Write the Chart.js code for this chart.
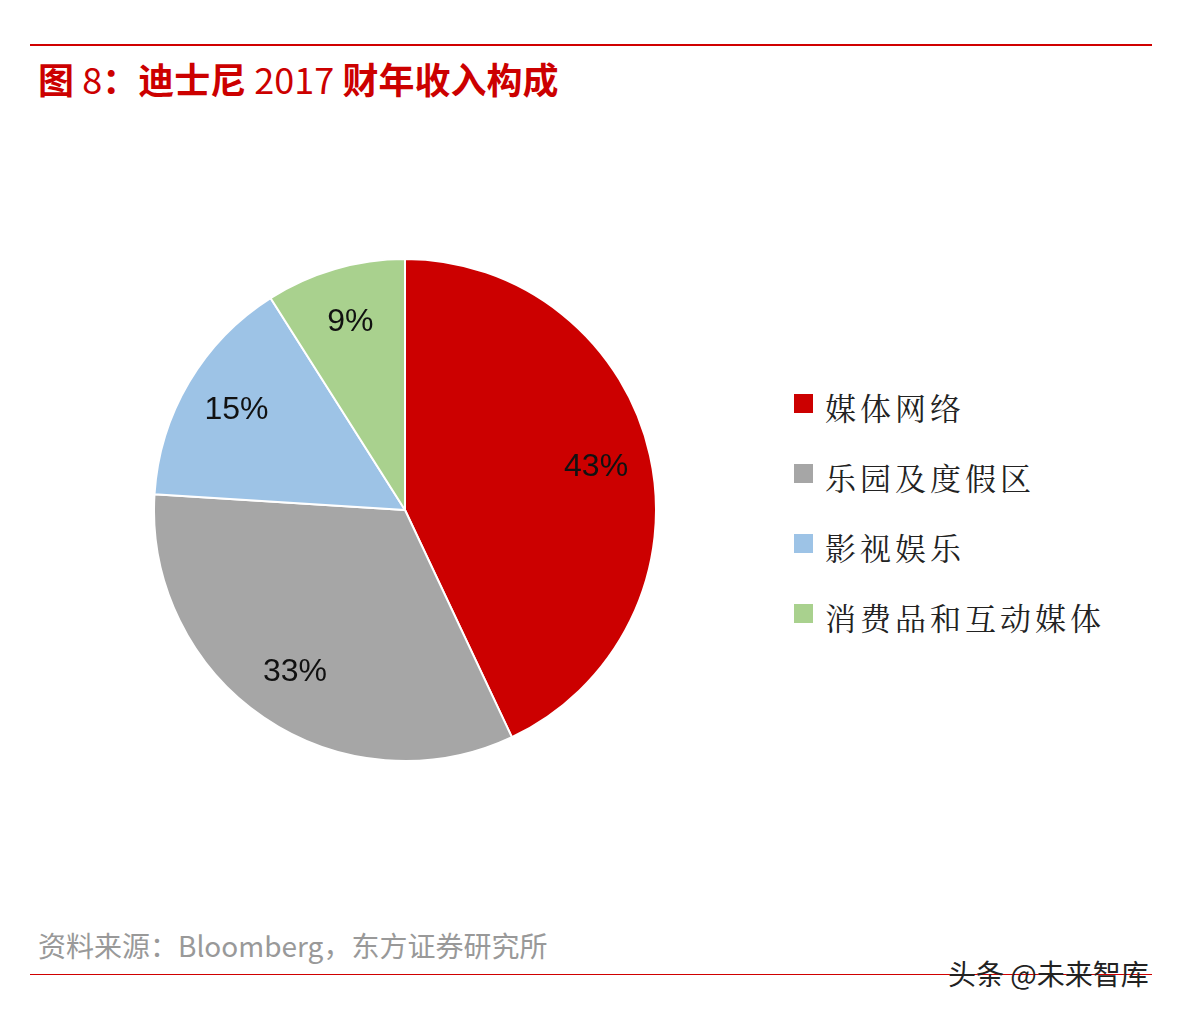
<!DOCTYPE html>
<html><head><meta charset="utf-8">
<script src="https://cdn.jsdelivr.net/npm/chart.js@4"></script>
<style>
body{margin:0;width:1192px;height:1014px;background:#fff;position:relative;font-family:"Noto Sans CJK SC","Noto Sans",sans-serif;overflow:hidden}
.line{position:absolute;left:30px;width:1122px;height:2px;background:#d00000}
#title{position:absolute;left:38px;top:52px;font-size:36px;font-weight:bold;color:#cc0000;white-space:nowrap}
#box{position:absolute;left:151px;top:256px;width:508px;height:508px}
#legend{position:absolute;left:794px;top:384px}
.li{height:70px;display:flex;align-items:flex-start;font-size:31px;color:#222;font-family:"Noto Serif CJK SC","Noto Sans CJK SC",serif;letter-spacing:4px}
.sw{width:19px;height:19px;margin:10px 12px 0 0}
#src{position:absolute;left:38px;top:925px;font-size:28px;color:#999}
#wm{position:absolute;left:948px;top:953px;font-size:28px;color:#222}
</style></head><body>
<div class="line" style="top:44px"></div>
<div class="line" style="top:974px;height:1px"></div>
<div id="title">图 <span style="font-weight:normal">8</span>：迪士尼 <span style="font-weight:normal">2017</span> 财年收入构成</div>
<div id="box"><canvas id="c"></canvas></div>
<div id="legend"></div>
<div id="src">资料来源：Bloomberg，东方证券研究所</div>
<div id="wm">头条 @未来智库</div>
<script>
const categories=["媒体网络","乐园及度假区","影视娱乐","消费品和互动媒体"];
const values=[43,33,15,9];
const colors=["#cc0000","#a6a6a6","#9dc3e6","#a9d18e"];
const lg=document.getElementById('legend');
categories.forEach((c,i)=>{lg.innerHTML+=`<div class="li"><div class="sw" style="background:${colors[i]}"></div>${c}</div>`;});
const labelPlugin={id:'lbl',afterDatasetsDraw(ch){const ctx=ch.ctx;const meta=ch.getDatasetMeta(0);ctx.save();ctx.font='32px "Liberation Sans Narrow","Liberation Sans",sans-serif';ctx.fillStyle='#111';ctx.textAlign='center';ctx.textBaseline='middle';
meta.data.forEach((a,i)=>{const m=(a.startAngle+a.endAngle)/2;const r=a.outerRadius*0.78;ctx.fillText(values[i]+'%',a.x+Math.cos(m)*r,a.y+Math.sin(m)*r);});ctx.restore();}};
new Chart(document.getElementById('c'),{type:'pie',data:{labels:categories,datasets:[{data:values,backgroundColor:colors,borderColor:'#fff',borderWidth:2}]},
options:{responsive:true,maintainAspectRatio:false,animation:false,layout:{padding:2},plugins:{legend:{display:false},tooltip:{enabled:false}}},plugins:[labelPlugin]});
</script>
</body></html>
